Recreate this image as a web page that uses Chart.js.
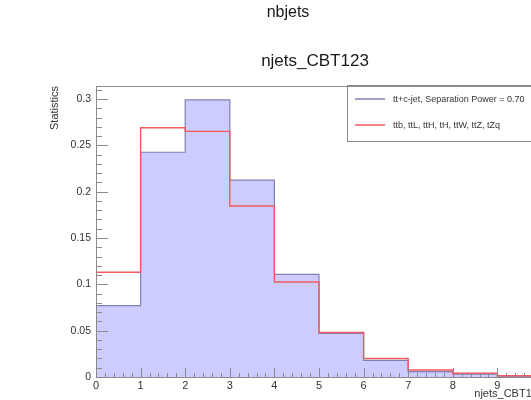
<!DOCTYPE html>
<html>
<head>
<meta charset="utf-8">
<script src="https://cdn.jsdelivr.net/npm/chart.js@4/dist/chart.umd.min.js"></script>
<style>
  html, body { margin: 0; padding: 0; background: #fff; overflow: hidden; }
  #wrap { width: 531px; height: 400px; overflow: hidden; position: relative; }
  canvas { display: block; }
</style>
</head>
<body>
<div id="wrap"><canvas id="c" width="560" height="400"></canvas></div>
<script>
// Histogram bins (lower edges, width 1) for njets_CBT123
const binEdges = [0, 1, 2, 3, 4, 5, 6, 7, 8, 9];
const binUpper = 10;
// Normalised yields per bin
const signalValues = [0.077, 0.2425, 0.299, 0.2125, 0.1108, 0.047, 0.018, 0.0057, 0.003, 0.001];
const backgroundValues = [0.113, 0.269, 0.265, 0.1845, 0.1025, 0.048, 0.020, 0.0075, 0.004, 0.0014];
const signalLabel = 'tt+c-jet, Separation Power = 0.70';
const backgroundLabel = 'ttb, ttL, ttH, tH, ttW, ttZ, tZq';
// Axis tick labels
const xTickValues = [0, 1, 2, 3, 4, 5, 6, 7, 8, 9];
const yTickValues = [0, 0.05, 0.1, 0.15, 0.2, 0.25, 0.3];

const FONT = '"Liberation Sans", Arial, Helvetica, sans-serif';
const FRAME = '#8a8a8a';
const SIGNAL_LINE = '#7f7fb5';
const BACKGROUND_LINE = '#f25a5f';

// Turn bin contents into step points: one per lower edge plus the closing edge
function histPoints(values) {
  const pts = binEdges.map((x, i) => ({ x: x, y: values[i] }));
  pts.push({ x: binUpper, y: values[values.length - 1] });
  return pts;
}

// ROOT-style frame, inward ticks, titles and boxed legend
const rootStyle = {
  id: 'rootStyle',
  afterDatasetsDraw(chart) {
    const { ctx, chartArea: a, scales } = chart;
    const xs = scales.x, ys = scales.y;
    ctx.save();
    ctx.strokeStyle = FRAME;
    ctx.lineWidth = 1;
    ctx.strokeRect(a.left + 0.5, a.top + 0.5, a.right - a.left, a.bottom - a.top);

    ctx.beginPath();
    // y axis ticks: majors every 0.05, minors every 0.01
    for (let k = 0; k <= 31; k++) {
      const v = k / 100;
      if (v > ys.max) break;
      const py = Math.round(ys.getPixelForValue(v)) + 0.5;
      const len = (k % 5 === 0) ? 12 : 6;
      ctx.moveTo(a.left, py);
      ctx.lineTo(a.left + len, py);
    }
    // x axis ticks: majors every 1, minors every 0.2
    for (let k = 0; k <= 50; k++) {
      const v = k / 5;
      const px = Math.round(xs.getPixelForValue(v)) + 0.5;
      const len = (k % 5 === 0) ? 9 : 4;
      ctx.moveTo(px, a.bottom);
      ctx.lineTo(px, a.bottom - len);
    }
    ctx.stroke();
    ctx.restore();
  },
  afterDraw(chart) {
    const { ctx, chartArea: a } = chart;
    ctx.save();
    ctx.fillStyle = '#1a1a1a';
    ctx.textBaseline = 'middle';
    ctx.textAlign = 'center';
    ctx.font = '16px ' + FONT;
    ctx.fillText('nbjets', 288, 13);
    ctx.font = '17px ' + FONT;
    ctx.fillText('njets_CBT123', 315, 61);

    // axis titles
    ctx.fillStyle = '#333';
    ctx.font = '11px ' + FONT;
    ctx.textAlign = 'right';
    ctx.fillText('njets_CBT123', a.right + 2, 394);
    ctx.save();
    ctx.translate(55, a.top);
    ctx.rotate(-Math.PI / 2);
    ctx.textAlign = 'right';
    ctx.fillText('Statistics', 0, 0);
    ctx.restore();

    // legend box
    const lx = 347, ly = 85, lw = 210, lh = 56;
    ctx.strokeStyle = FRAME;
    ctx.lineWidth = 1;
    ctx.strokeRect(lx + 0.5, ly + 0.5, lw, lh);
    ctx.font = '9px ' + FONT;
    ctx.textAlign = 'left';
    const rows = [99, 125];
    const lineColors = [SIGNAL_LINE, BACKGROUND_LINE];
    chart.data.datasets.forEach((ds, i) => {
      ctx.strokeStyle = lineColors[i];
      ctx.lineWidth = 1.5;
      ctx.beginPath();
      ctx.moveTo(355, rows[i]);
      ctx.lineTo(385, rows[i]);
      ctx.stroke();
      ctx.fillStyle = '#333';
      ctx.fillText(ds.label, 393, rows[i] + 0.5);
    });
    ctx.restore();
  }
};

new Chart(document.getElementById('c'), {
  type: 'line',
  data: {
    datasets: [
      {
        label: signalLabel,
        data: histPoints(signalValues),
        stepped: 'before',
        borderColor: SIGNAL_LINE,
        backgroundColor: '#ccccff',
        borderWidth: 1.2,
        fill: 'origin',
        pointRadius: 0,
        order: 1
      },
      {
        label: backgroundLabel,
        data: histPoints(backgroundValues),
        stepped: 'before',
        borderColor: BACKGROUND_LINE,
        backgroundColor: 'rgba(0,0,0,0)',
        borderWidth: 1.4,
        fill: false,
        pointRadius: 0,
        order: 0
      }
    ]
  },
  options: {
    responsive: false,
    animation: false,
    events: [],
    layout: { padding: { left: 0, top: 86, right: 18, bottom: 0 } },
    plugins: { legend: { display: false }, tooltip: { enabled: false }, title: { display: false } },
    scales: {
      x: {
        type: 'linear',
        min: 0,
        max: binUpper,
        grid: { display: false, drawTicks: false },
        border: { display: false },
        afterBuildTicks(s) { s.ticks = xTickValues.map(v => ({ value: v })); },
        afterFit(s) { s.height = 23; },
        ticks: {
          color: '#333',
          font: { family: FONT, size: 11 },
          padding: 2,
          maxRotation: 0,
          autoSkip: false,
          callback: v => String(v)
        }
      },
      y: {
        min: 0,
        max: 0.314,
        grid: { display: false, drawTicks: false },
        border: { display: false },
        afterBuildTicks(s) { s.ticks = yTickValues.map(v => ({ value: v })); },
        afterFit(s) { s.width = 96; },
        ticks: {
          color: '#333',
          font: { family: FONT, size: 10.5 },
          padding: 5,
          autoSkip: false,
          callback: v => String(+v.toFixed(2))
        }
      }
    }
  },
  plugins: [rootStyle]
});
</script>
</body>
</html>
